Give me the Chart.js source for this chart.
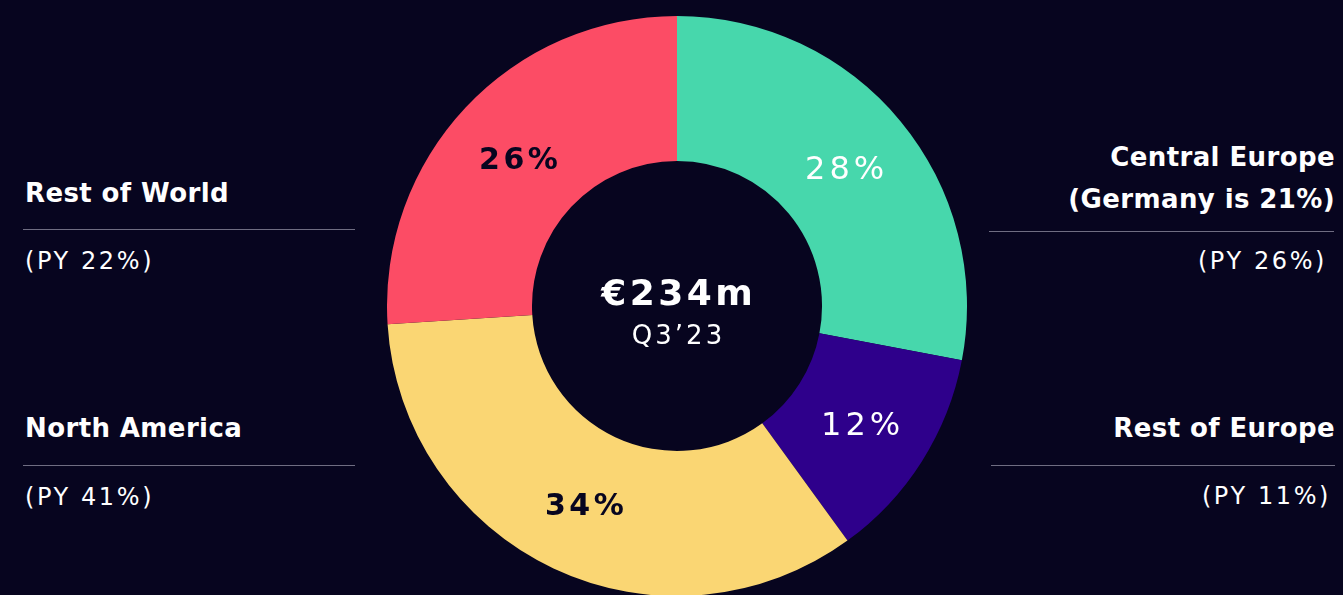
<!DOCTYPE html>
<html>
<head>
<meta charset="utf-8">
<script src="https://cdn.jsdelivr.net/npm/chart.js@4"></script>
<style>
  html, body { margin: 0; padding: 0; }
  body {
    width: 1343px; height: 595px; overflow: hidden; position: relative;
    background: #07051f; color: #fff;
    font-family: "DejaVu Sans", sans-serif;
  }
  #wrap { position: absolute; left: 387px; top: 16px; width: 580px; height: 580px; }
  .t { position: absolute; line-height: 1; white-space: nowrap; }
  .name { font-weight: 700; font-size: 26px; letter-spacing: 0.4px; }
  .py { font-size: 24px; letter-spacing: 2.6px; }
  .rule { position: absolute; height: 0; border-top: 1px solid #6f6d82; }
</style>
</head>
<body>
<div id="wrap"><canvas id="chart" width="580" height="580"></canvas></div>

<!-- left side -->
<div class="t name" style="top:180px; left:25px">Rest of World</div>
<div class="rule" style="top:229px; left:23px; width:332px"></div>
<div class="t py" style="top:249px; left:25px">(PY 22%)</div>

<div class="t name" style="top:415px; left:25px">North America</div>
<div class="rule" style="top:465px; left:23px; width:332px"></div>
<div class="t py" style="top:485px; left:25px">(PY 41%)</div>

<!-- right side -->
<div class="t name" style="top:144px; right:8px">Central Europe</div>
<div class="t name" style="top:186px; right:8px">(Germany is 21%)</div>
<div class="rule" style="top:231px; left:989px; width:345px"></div>
<div class="t py" style="top:249px; right:16px">(PY 26%)</div>

<div class="t name" style="top:415px; right:8px">Rest of Europe</div>
<div class="rule" style="top:465px; left:991px; width:344px"></div>
<div class="t py" style="top:484px; right:12px">(PY 11%)</div>

<script>
// Q3'23 revenue split by region (clockwise from 12 o'clock)
const regions = ['Central Europe', 'Rest of Europe', 'North America', 'Rest of World'];
const shares = [28, 12, 34, 26];
const colors = ['#47d7ac', '#2e008b', '#fad673', '#fc4c65'];
const labelColors = ['#ffffff', '#ffffff', '#07051f', '#07051f'];
const totalText = '€234m';
const periodText = 'Q3’23';

// helper: centred text with letter spacing
function spacedText(ctx, text, x, y, ls) {
  ctx.letterSpacing = ls + 'px';
  ctx.fillText(text, x + ls / 2, y);
  ctx.letterSpacing = '0px';
}

// Draw the % on each slice and the total in the hole
const sliceLabels = {
  id: 'sliceLabels',
  afterDatasetsDraw(chart) {
    const ctx = chart.ctx;
    const meta = chart.getDatasetMeta(0);
    ctx.save();
    ctx.textAlign = 'center';
    ctx.textBaseline = 'alphabetic';
    meta.data.forEach((arc, i) => {
      const p = arc.tooltipPosition();
      ctx.fillStyle = labelColors[i];
      ctx.font = (i >= 2 ? 'bold 30px' : '32px') + ' "DejaVu Sans", sans-serif';
      spacedText(ctx, shares[i] + '%', p.x, p.y + 12, i >= 2 ? 3.5 : 4);
    });
    const c = meta.data[0];
    ctx.fillStyle = '#ffffff';
    ctx.font = 'bold 36px "DejaVu Sans", sans-serif';
    spacedText(ctx, totalText, c.x, c.y - 1, 3.5);
    ctx.font = '26px "DejaVu Sans", sans-serif';
    spacedText(ctx, periodText, c.x, c.y + 38, 3);
    ctx.restore();
  }
};

new Chart(document.getElementById('chart'), {
  type: 'doughnut',
  data: {
    labels: regions,
    datasets: [{
      data: shares,
      backgroundColor: colors,
      borderWidth: 0,
      hoverOffset: 0,
      offset: 0
    }]
  },
  options: {
    responsive: false,
    animation: false,
    cutout: '50%',
    layout: { padding: 0 },
    plugins: { legend: { display: false }, tooltip: { enabled: false } }
  },
  plugins: [sliceLabels]
});
</script>
</body>
</html>
